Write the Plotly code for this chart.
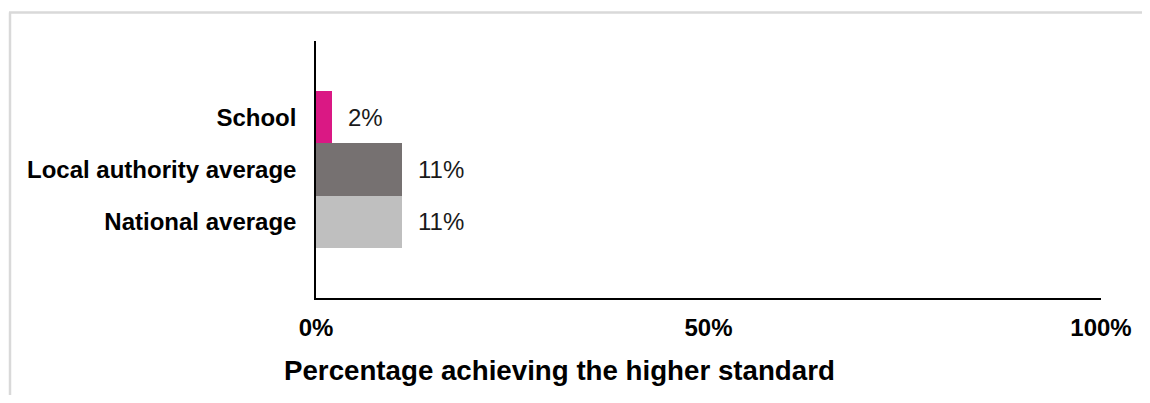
import plotly.graph_objects as go

categories = ["School", "Local authority average", "National average"]
values = [2, 11, 11]
labels = ["2%", "11%", "11%"]
colors = ["#DA1884", "#767171", "#BFBFBF"]
x_ticks = [0, 50, 100]
x_tick_labels = ["0%", "50%", "100%"]
x_title = "Percentage achieving the higher standard"

# page body has an 8px margin; figure sized to fit the 1150x403 window
OFF = 8
W, H = 1150 - OFF, 403 - 2 * OFF
L, R, T = 316 - OFF, 1150 - 1101, 41 - OFF
B = H - (298 - OFF)
pw, ph = W - L - R, H - T - B

def px_x(p):  # p in page pixels
    return (p - OFF - L) / pw

def px_y(p):
    return (H - B - (p - OFF)) / ph

FONT = "Liberation Sans, Arial, sans-serif"

fig = go.Figure()
fig.add_trace(go.Bar(
    y=categories, x=values, orientation="h",
    marker=dict(color=colors, line=dict(width=0)),
    width=1.0, hoverinfo="skip",
))

for c, v, t in zip(categories, values, labels):
    fig.add_annotation(x=v, y=c, text=t, showarrow=False, xanchor="left",
                       xshift=14, font=dict(family=FONT, size=24, color="#1a1a1a"))

fig.add_annotation(xref="paper", yref="paper", x=px_x(282), y=px_y(370),
                   text=x_title, showarrow=False, xanchor="left", yanchor="middle",
                   font=dict(family=FONT, size=27.7, color="#000000", weight="bold"))

# outer frame (top and left edges visible)
fig.add_shape(type="line", xref="paper", yref="paper",
              x0=px_x(10), x1=px_x(10), y0=px_y(12.5), y1=px_y(440),
              line=dict(color="#D9D9D9", width=2.5))
fig.add_shape(type="line", xref="paper", yref="paper",
              x0=px_x(9), x1=px_x(1200), y0=px_y(12.5), y1=px_y(12.5),
              line=dict(color="#D9D9D9", width=2.5))

fig.update_layout(
    width=W, height=H,
    margin=dict(l=L, r=R, t=T, b=B),
    paper_bgcolor="white", plot_bgcolor="white",
    showlegend=False, bargap=0,
    xaxis=dict(range=[0, 100], tickvals=x_ticks, ticktext=x_tick_labels,
               showgrid=False, zeroline=False, showline=True,
               linecolor="#000000", linewidth=1.5,
               ticks="outside", ticklen=7, tickcolor="rgba(0,0,0,0)",
               tickfont=dict(family=FONT, size=24, color="#000000", weight="bold")),
    yaxis=dict(categoryorder="array", categoryarray=categories[::-1],
               range=[-1.46, 3.46], showgrid=False, zeroline=False,
               showline=True, linecolor="#000000", linewidth=1.5,
               ticks="outside", ticklen=13, tickcolor="rgba(0,0,0,0)",
               tickfont=dict(family=FONT, size=24, color="#000000", weight="bold")),
)

fig.write_html("out.html")
